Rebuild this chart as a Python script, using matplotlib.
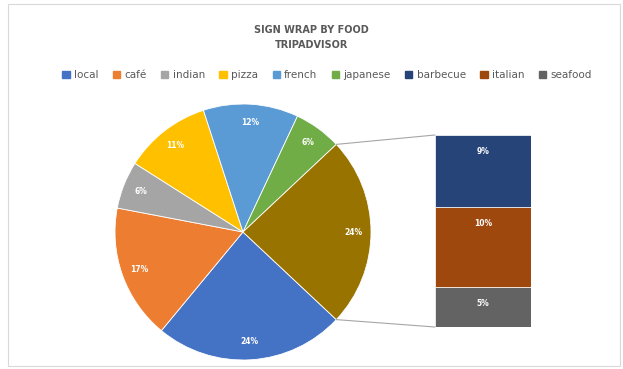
import matplotlib
matplotlib.use("Agg")
import matplotlib.pyplot as plt
from matplotlib.patches import ConnectionPatch, Rectangle
import numpy as np

# data (percent of reviews)
pie_labels = ['local', 'café', 'indian', 'pizza', 'french', 'japanese']
pie_values = [24, 17, 6, 11, 12, 6]
bar_labels = ['barbecue', 'italian', 'seafood']
bar_values = [9, 10, 5]

pie_colors = ['#4472C4', '#ED7D31', '#A5A5A5', '#FFC000', '#5B9BD5', '#70AD47']
other_color = '#997300'
bar_colors = ['#264478', '#9E480E', '#636363']

W, H = 623, 369
fig = plt.figure(figsize=(W / 100, H / 100), dpi=100)
fig.patch.set_facecolor('white')

def px_axes(x0, y0, x1, y1):
    # pixel box (top-left origin) -> figure axes
    return fig.add_axes([x0 / W, 1 - y1 / H, (x1 - x0) / W, (y1 - y0) / H])

# chart border
fig.add_artist(Rectangle((8 / W, 3 / H), 612 / W, 362 / H, transform=fig.transFigure,
                         fill=False, edgecolor='#D9D9D9', linewidth=0.8))

fig.text(0.5, 1 - 30 / H, 'SIGN WRAP BY FOOD', ha='center', va='center',
         fontsize=7, fontweight='bold', color='#595959')
fig.text(0.5, 1 - 45 / H, 'TRIPADVISOR', ha='center', va='center',
         fontsize=7, fontweight='bold', color='#595959')

# pie
cx, cy, r = 243, 232, 128
ax = px_axes(cx - r, cy - r, cx + r, cy + r)
other = sum(bar_values)
values = pie_values + [other]
colors = pie_colors + [other_color]
start = -other / sum(values) * 360 / 2
wedges, texts, autotexts = ax.pie(values, colors=colors, startangle=start, counterclock=False,
                                  autopct='%.0f%%', pctdistance=0.86,
                                  wedgeprops=dict(edgecolor='white', linewidth=0.6),
                                  textprops=dict(color='white', fontsize=5.5, fontweight='bold'))
ax.set_xlim(-1, 1)
ax.set_ylim(-1, 1)
ax.set_aspect('auto')

# bar of the "other" slice
bx = px_axes(435, 135, 531, 327)
bottom = 0
for lab, val, col in zip(bar_labels[::-1], bar_values[::-1], bar_colors[::-1]):
    bx.bar(0, val, bottom=bottom, width=1.0, color=col, edgecolor='white', linewidth=0.5)
    top = bottom + val
    bx.text(0, top - min(val / 2, 2.0), f'{val}%', ha='center', va='center',
            color='white', fontsize=5.5, fontweight='bold')
    bottom = top
bx.set_xlim(-0.5, 0.5)
bx.set_ylim(0, other)
bx.axis('off')

# connector lines
ow = wedges[-1]
for ang, yb in [(ow.theta2, other), (ow.theta1, 0)]:
    p = (np.cos(np.radians(ang)), np.sin(np.radians(ang)))
    con = ConnectionPatch(xyA=p, coordsA=ax.transData, xyB=(-0.5, yb), coordsB=bx.transData,
                          color='#A6A6A6', linewidth=0.8)
    fig.add_artist(con)

# legend
handles = [Rectangle((0, 0), 1, 1, color=c) for c in pie_colors + bar_colors]
fig.legend(handles, pie_labels + bar_labels, loc='center', bbox_to_anchor=(327 / W, 1 - 75 / H),
           ncol=9, frameon=False, fontsize=7.5, labelcolor='#595959',
           handlelength=0.7, handleheight=0.7, handletextpad=0.4, columnspacing=1.4)

fig.savefig('out.png', dpi=100, facecolor='white')
